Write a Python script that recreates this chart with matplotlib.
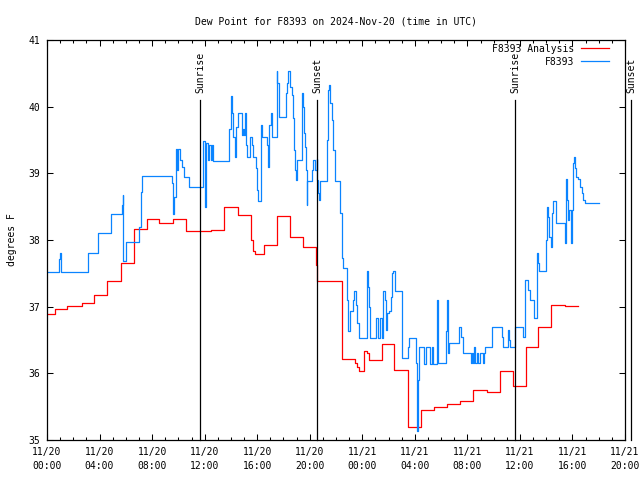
import numpy as np
import matplotlib
matplotlib.use("Agg")
import matplotlib.pyplot as plt
from matplotlib.ticker import MultipleLocator

# hours since 2024-11-20 00:00 UTC
red_hours = [0.0, 0.59, 1.52, 2.66, 3.56, 4.55, 5.61, 6.60, 7.59, 8.55, 9.57, 10.58,
             12.49, 13.51, 14.52, 15.55, 15.68, 15.80, 16.52, 17.49, 18.50, 19.47,
             20.50, 20.59, 22.48, 23.45, 23.60, 23.75, 24.11, 24.36, 24.51, 25.48,
             26.44, 27.48, 28.45, 29.46, 30.43, 31.44, 32.45, 33.47, 34.49, 35.48,
             36.46, 37.40, 38.37, 39.43, 40.40]
red_values = [36.89, 36.97, 37.01, 37.05, 37.18, 37.39, 37.65, 38.16, 38.31, 38.25, 38.31, 38.14,
              38.15, 38.49, 38.38, 38.00, 37.83, 37.79, 37.92, 38.36, 38.04, 37.89,
              37.62, 37.38, 36.22, 36.15, 36.10, 36.03, 36.34, 36.30, 36.20, 36.44,
              36.05, 35.19, 35.45, 35.50, 35.54, 35.58, 35.75, 35.72, 36.04, 35.81,
              36.40, 36.69, 37.03, 37.01, 37.01]

blue_hours = [0.00, 0.91, 1.01, 1.09, 3.10, 3.91, 4.85, 5.69, 5.75, 5.81, 6.01, 7.03, 7.16, 7.21,
              9.49, 9.57, 9.61, 9.69, 9.80, 9.90, 9.97, 10.09, 10.25, 10.43, 10.81, 11.85,
              11.91, 11.99, 12.05, 12.14, 12.26, 12.37, 12.48, 12.56, 12.66, 13.88, 13.98,
              14.06, 14.16, 14.29, 14.41, 14.54, 14.82, 14.90, 15.00, 15.08, 15.15, 15.25,
              15.45, 15.61, 15.71, 15.91, 15.96, 16.01, 16.09, 16.27, 16.34, 16.77, 16.85,
              16.92, 17.03, 17.11, 17.49, 17.53, 17.64, 17.69, 18.17, 18.25, 18.37, 18.50,
              18.63, 18.71, 18.80, 18.88, 18.96, 19.05, 19.39, 19.47, 19.56, 19.66, 19.71,
              19.76, 19.81, 20.14, 20.22, 20.42, 20.53, 20.58, 20.65, 20.73, 20.78, 21.29,
              21.41, 21.49, 21.54, 21.67, 21.80, 21.92, 22.31, 22.43, 22.56, 22.86, 22.94,
              23.07, 23.32, 23.39, 23.52, 23.62, 23.77, 24.34, 24.41, 24.54, 24.59, 25.05,
              25.18, 25.22, 25.35, 25.48, 25.55, 25.60, 25.73, 25.81, 25.91, 26.06, 26.19,
              26.26, 26.36, 26.49, 27.00, 27.05, 27.51, 27.58, 28.09, 28.14, 28.19, 28.27,
              28.34, 28.72, 28.83, 29.16, 29.29, 29.41, 29.67, 29.72, 29.77, 30.38, 30.43,
              30.51, 30.58, 31.39, 31.49, 31.65, 32.26, 32.33, 32.41, 32.51, 32.58, 32.71,
              32.83, 32.96, 33.21, 33.27, 33.34, 33.88, 34.61, 34.74, 35.07, 35.15, 35.25,
              35.63, 36.26, 36.39, 36.64, 36.77, 37.11, 37.28, 37.40, 37.48, 37.96, 38.04,
              38.12, 38.20, 38.24, 38.35, 38.42, 38.50, 38.75, 39.43, 39.51, 39.61, 39.69,
              39.76, 39.87, 39.94, 40.02, 40.07, 40.14, 40.22, 40.27, 40.45, 40.58, 40.70,
              40.83, 40.96, 42.00]
blue_values = [37.52, 37.72, 37.80, 37.52, 37.80, 38.10, 38.39, 38.52, 38.68, 37.69, 37.97, 38.20, 38.72, 38.96,
               38.86, 38.56, 38.39, 38.65, 39.37, 39.05, 39.37, 39.20, 39.09, 38.94, 38.79, 39.20,
               39.49, 38.90, 38.50, 39.45, 39.20, 39.43, 39.20, 39.43, 39.19, 39.66, 40.16,
               39.90, 39.55, 39.24, 39.70, 39.90, 39.58, 39.67, 39.57, 39.90, 39.43, 39.25,
               39.55, 39.43, 39.25, 39.08, 38.93, 38.75, 38.58, 39.73, 39.55, 39.43, 39.10,
               39.73, 39.90, 39.55, 40.53, 40.35, 40.20, 39.85, 40.20, 40.35, 40.53, 40.30,
               40.18, 39.83, 39.35, 39.05, 38.90, 39.20, 40.20, 40.00, 39.60, 39.40, 39.05,
               38.53, 38.88, 39.05, 39.20, 39.05, 39.21, 38.90, 38.70, 38.60, 38.88, 39.50,
               40.25, 40.33, 40.05, 39.80, 39.35, 38.88, 38.40, 37.73, 37.58, 37.10, 36.63,
               36.93, 37.10, 37.23, 37.03, 36.75, 36.53, 37.53, 37.30, 37.00, 36.53, 36.83,
               36.65, 36.53, 36.83, 36.53, 36.85, 37.23, 37.10, 36.65, 36.90, 36.93, 37.15,
               37.50, 37.53, 37.23, 36.73, 36.23, 36.40, 36.53, 36.15, 35.50, 35.13, 35.90,
               36.40, 36.14, 36.40, 36.14, 36.40, 36.14, 36.63, 37.10, 36.15, 36.63, 37.10,
               36.30, 36.45, 36.70, 36.55, 36.30, 36.15, 36.30, 36.15, 36.40, 36.15, 36.30,
               36.15, 36.30, 36.15, 36.30, 36.40, 36.70, 36.55, 36.40, 36.65, 36.50, 36.40,
               36.70, 36.55, 37.40, 37.25, 37.10, 36.83, 37.80, 37.65, 37.53, 38.00, 38.50,
               38.35, 38.20, 38.05, 37.90, 38.40, 38.58, 38.26, 37.95, 38.92, 38.60, 38.30,
               38.45, 37.95, 38.45, 39.01, 39.15, 39.25, 39.08, 38.94, 38.92, 38.80, 38.70,
               38.60, 38.55, 38.55]

event_hours = [11.65, 20.55, 35.63, 44.46]
event_labels = ["Sunrise", "Sunset", "Sunrise", "Sunset"]

tick_hours = [0, 4, 8, 12, 16, 20, 24, 28, 32, 36, 40, 44]
tick_labels = ["11/20\n00:00", "11/20\n04:00", "11/20\n08:00", "11/20\n12:00",
               "11/20\n16:00", "11/20\n20:00", "11/21\n00:00", "11/21\n04:00",
               "11/21\n08:00", "11/21\n12:00", "11/21\n16:00", "11/21\n20:00"]

plt.rcParams['font.family'] = ['DejaVu Sans Mono']
plt.rcParams['font.size'] = 7

fig = plt.figure(figsize=(6.4, 4.8), dpi=100)
ax = fig.add_axes([47/640, 40/480, 578/640, 400/480])

ax.step(red_hours, red_values, where="post", color="#ff0000", lw=0.9, label="F8393 Analysis")
ax.step(blue_hours, blue_values, where="post", color="#0a84ff", lw=0.9, label="F8393")

# sunrise / sunset markers
for h, lab in zip(event_hours, event_labels):
    ax.plot([h, h], [35, 40.1], color="black", lw=0.9, clip_on=False)
    ax.text(h, 40.2, lab, rotation=90, ha="center", va="bottom", clip_on=False)

ax.set_xlim(0, 44)
ax.set_ylim(35, 41)
ax.set_xticks(tick_hours)
ax.set_xticklabels(tick_labels, linespacing=1.5)
ax.xaxis.set_minor_locator(MultipleLocator(1))
ax.set_yticks([35, 36, 37, 38, 39, 40, 41])
ax.tick_params(which="both", direction="in", top=True, right=True, width=0.75)
ax.tick_params(which="major", length=4.5, pad=5)
ax.tick_params(which="minor", length=2.5)
for sp in ax.spines.values():
    sp.set_linewidth(0.9)

ax.set_ylabel("degrees F", labelpad=8)
ax.set_title("Dew Point for F8393 on 2024-Nov-20 (time in UTC)", fontsize=7, pad=11)

ax.legend(loc="upper right", bbox_to_anchor=(1 - 12/578, 1.0), frameon=False,
          markerfirst=False, handlelength=2.9, handletextpad=0.7, borderaxespad=0.2,
          labelspacing=0.3, borderpad=0.2)

fig.savefig("out.png", dpi=100)
